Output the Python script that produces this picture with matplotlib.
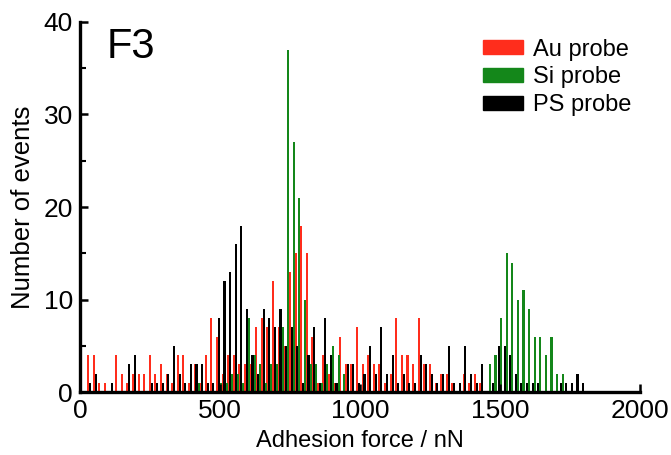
import numpy as np
import matplotlib.pyplot as plt
from matplotlib.patches import Patch
from matplotlib.ticker import MultipleLocator

plt.rcParams['font.family'] = ['Liberation Sans', 'DejaVu Sans']

# 20 nN bins from 0 to 1800 nN
bin_width = 20
bin_edges = np.arange(0, 1800, bin_width)

au_counts = [0, 4, 4, 1, 1, 0, 4, 2, 1, 2,
             2, 2, 4, 2, 3, 2, 1, 4, 4, 1,
             3, 1, 4, 8, 6, 2, 4, 4, 3, 3,
             3, 7, 8, 7, 12, 7, 5, 13, 15, 18,
             15, 6, 1, 4, 2, 1, 6, 3, 3, 7,
             3, 4, 3, 3, 1, 2, 8, 4, 4, 3,
             8, 3, 3, 1, 2, 2, 1, 0, 2, 1,
             2, 1, 0, 0, 0, 0, 0, 0, 0, 0,
             0, 0, 0, 0, 0, 0, 0, 0, 0, 0]

si_counts = [0, 0, 0, 0, 0, 0, 0, 0, 0, 0,
             0, 0, 0, 0, 0, 0, 0, 0, 0, 0,
             0, 1, 0, 0, 0, 1, 1, 2, 2, 1,
             8, 4, 3, 1, 3, 3, 7, 37, 27, 21,
             10, 3, 3, 1, 3, 5, 4, 2, 0, 0,
             0, 0, 0, 0, 0, 0, 0, 0, 0, 0,
             0, 0, 0, 0, 0, 0, 0, 0, 0, 0,
             0, 0, 0, 3, 4, 8, 15, 14, 10, 11,
             9, 6, 6, 4, 6, 2, 2, 0, 0, 0]

ps_counts = [0, 1, 2, 0, 0, 1, 0, 0, 3, 4,
             0, 0, 1, 1, 1, 2, 5, 2, 1, 3,
             3, 3, 1, 1, 8, 12, 13, 16, 18, 9,
             4, 2, 9, 8, 7, 9, 5, 7, 5, 1,
             4, 7, 1, 8, 4, 1, 0, 3, 3, 1,
             2, 5, 2, 7, 2, 4, 1, 2, 1, 1,
             4, 3, 2, 1, 2, 5, 1, 1, 5, 2,
             1, 3, 0, 1, 5, 5, 4, 2, 1, 1,
             1, 1, 0, 0, 0, 1, 1, 1, 2, 1]

series = [
    ('Au probe', au_counts, '#ff2d1c', 6),
    ('Si probe', si_counts, '#14871a', 0),
    ('PS probe', ps_counts, '#000000', 12.5),
]

fig = plt.figure(figsize=(6.71, 4.55), dpi=100)
ax = fig.add_axes([0.119, 0.138, 0.835, 0.814])

bar_w = 7.5
for label, counts, color, shift in series:
    ax.bar(bin_edges + shift, counts, width=bar_w, align='edge',
           color=color, linewidth=0)

ax.set_xlim(0, 2000)
ax.set_ylim(0, 40)
ax.xaxis.set_major_locator(MultipleLocator(500))
ax.yaxis.set_major_locator(MultipleLocator(10))
ax.yaxis.set_minor_locator(MultipleLocator(5))

for side in ['top', 'right']:
    ax.spines[side].set_visible(False)
for side in ['left', 'bottom']:
    ax.spines[side].set_linewidth(2.4)

ax.tick_params(which='major', direction='in', length=6, width=1.8,
               labelsize=19, pad=5)
ax.tick_params(which='minor', direction='in', length=4, width=1.5)

ax.set_xlabel('Adhesion force / nN', fontsize=17, labelpad=5)
ax.set_ylabel('Number of events', fontsize=18.5, labelpad=6)

ax.text(0.048, 0.985, 'F3', transform=ax.transAxes, fontsize=30,
        va='top', ha='left')

handles = [Patch(color=c, label=l) for l, _, c, _ in series]
ax.legend(handles=handles, loc='upper right', frameon=False, fontsize=17,
          handlelength=1.7, handleheight=0.55, handletextpad=0.42,
          labelspacing=0.25, borderpad=0, borderaxespad=0,
          bbox_to_anchor=(0.985, 0.955))

fig.savefig('out.png', dpi=100)
